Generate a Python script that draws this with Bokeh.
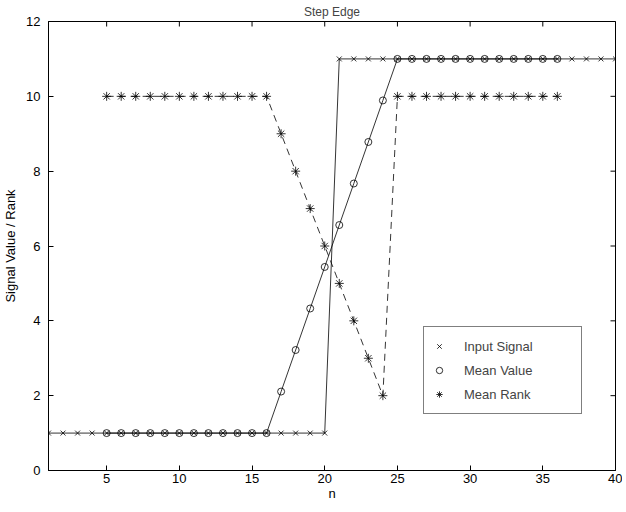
from bokeh.plotting import figure
from bokeh.models import Range1d, FixedTicker, Legend, LegendItem
from bokeh.embed import file_html
from bokeh.resources import INLINE

# ---- data ----
n_input = [1, 2, 3, 4, 5, 6, 7, 8, 9, 10, 11, 12, 13, 14, 15, 16, 17, 18, 19, 20,
           21, 22, 23, 24, 25, 26, 27, 28, 29, 30, 31, 32, 33, 34, 35, 36, 37, 38, 39, 40]
input_signal = [1, 1, 1, 1, 1, 1, 1, 1, 1, 1, 1, 1, 1, 1, 1, 1, 1, 1, 1, 1,
                11, 11, 11, 11, 11, 11, 11, 11, 11, 11, 11, 11, 11, 11, 11, 11, 11, 11, 11, 11]
n_filtered = [5, 6, 7, 8, 9, 10, 11, 12, 13, 14, 15, 16, 17, 18, 19, 20,
              21, 22, 23, 24, 25, 26, 27, 28, 29, 30, 31, 32, 33, 34, 35, 36]
mean_value = [1, 1, 1, 1, 1, 1, 1, 1, 1, 1, 1, 1,
              2.11, 3.22, 4.33, 5.44, 6.56, 7.67, 8.78, 9.89,
              11, 11, 11, 11, 11, 11, 11, 11, 11, 11, 11, 11]
mean_rank = [10, 10, 10, 10, 10, 10, 10, 10, 10, 10, 10, 10,
             9, 8, 7, 6, 5, 4, 3, 2,
             10, 10, 10, 10, 10, 10, 10, 10, 10, 10, 10, 10]
x_ticks = [5, 10, 15, 20, 25, 30, 35, 40]
y_ticks = [0, 2, 4, 6, 8, 10, 12]
X_MIN, X_MAX = 1, 40
Y_MIN, Y_MAX = 0, 12

FONT = "Liberation Sans"
FS = "13px"

p = figure(frame_width=567, frame_height=449, output_backend="svg", toolbar_location=None,
           x_range=Range1d(X_MIN, X_MAX), y_range=Range1d(Y_MIN, Y_MAX), title="Step Edge",
           min_border_left=40, min_border_right=7, min_border_top=14, min_border_bottom=32)
p.title.align = "center"
p.title.text_font = FONT
p.title.text_font_size = "12px"
p.title.text_font_style = "normal"
p.title.standoff = 5
p.grid.visible = False
p.outline_line_color = "black"
p.outline_line_width = 1
p.background_fill_color = "white"
p.border_fill_color = "white"


def style_axis(ax):
    ax.major_tick_in = 5
    ax.major_tick_out = 0
    ax.minor_tick_in = 0
    ax.minor_tick_out = 0
    ax.axis_line_color = "black"
    ax.major_tick_line_color = "black"
    ax.major_label_text_font = FONT
    ax.major_label_text_font_size = FS
    ax.major_label_text_color = "black"
    ax.axis_label_text_font = FONT
    ax.axis_label_text_font_size = FS
    ax.axis_label_text_font_style = "normal"
    ax.axis_label_text_color = "black"


p.xaxis.ticker = FixedTicker(ticks=x_ticks)
p.yaxis.ticker = FixedTicker(ticks=y_ticks)
style_axis(p.xaxis[0])
style_axis(p.yaxis[0])
p.xaxis.axis_label = "n"
p.yaxis.axis_label = "Signal Value / Rank"
p.xaxis.major_label_standoff = 3
p.yaxis.major_label_standoff = 8
p.xaxis.axis_label_standoff = 0
p.yaxis.axis_label_standoff = 5

# mirrored inward ticks on the top and right edges (clipped to the frame)
p.scatter(x_ticks, [Y_MAX] * len(x_ticks), marker="dash", angle=1.5708, size=10,
          line_color="black", line_width=1)
p.scatter([X_MAX] * len(y_ticks), y_ticks, marker="dash", size=10,
          line_color="black", line_width=1)

LW = 0.8
p.line(n_input, input_signal, line_color="black", line_width=LW)
r1 = p.scatter(n_input, input_signal, marker="x", size=7, line_color="black", line_width=LW)
p.line(n_filtered, mean_value, line_color="black", line_width=LW)
r2 = p.scatter(n_filtered, mean_value, marker="circle", size=7, line_color="black",
               fill_color=None, line_width=LW)
p.line(n_filtered, mean_rank, line_color="black", line_width=LW, line_dash="7 5")
r3 = p.scatter(n_filtered, mean_rank, marker="asterisk", size=9, line_color="black", line_width=LW)

legend = Legend(items=[LegendItem(label="Input Signal", renderers=[r1]),
                       LegendItem(label="Mean Value", renderers=[r2]),
                       LegendItem(label="Mean Rank", renderers=[r3])],
                location=(375, 56))
legend.border_line_color = "black"
legend.border_line_width = 1
legend.background_fill_color = "white"
legend.background_fill_alpha = 1
legend.padding = 7
legend.spacing = 0
legend.margin = 0
legend.label_height = 24
legend.glyph_height = 24
legend.glyph_width = 16
legend.label_standoff = 17
legend.label_width = 110
legend.label_text_font = FONT
legend.label_text_font_size = FS
p.add_layout(legend)

open("out.html", "w").write(file_html(p, INLINE))
